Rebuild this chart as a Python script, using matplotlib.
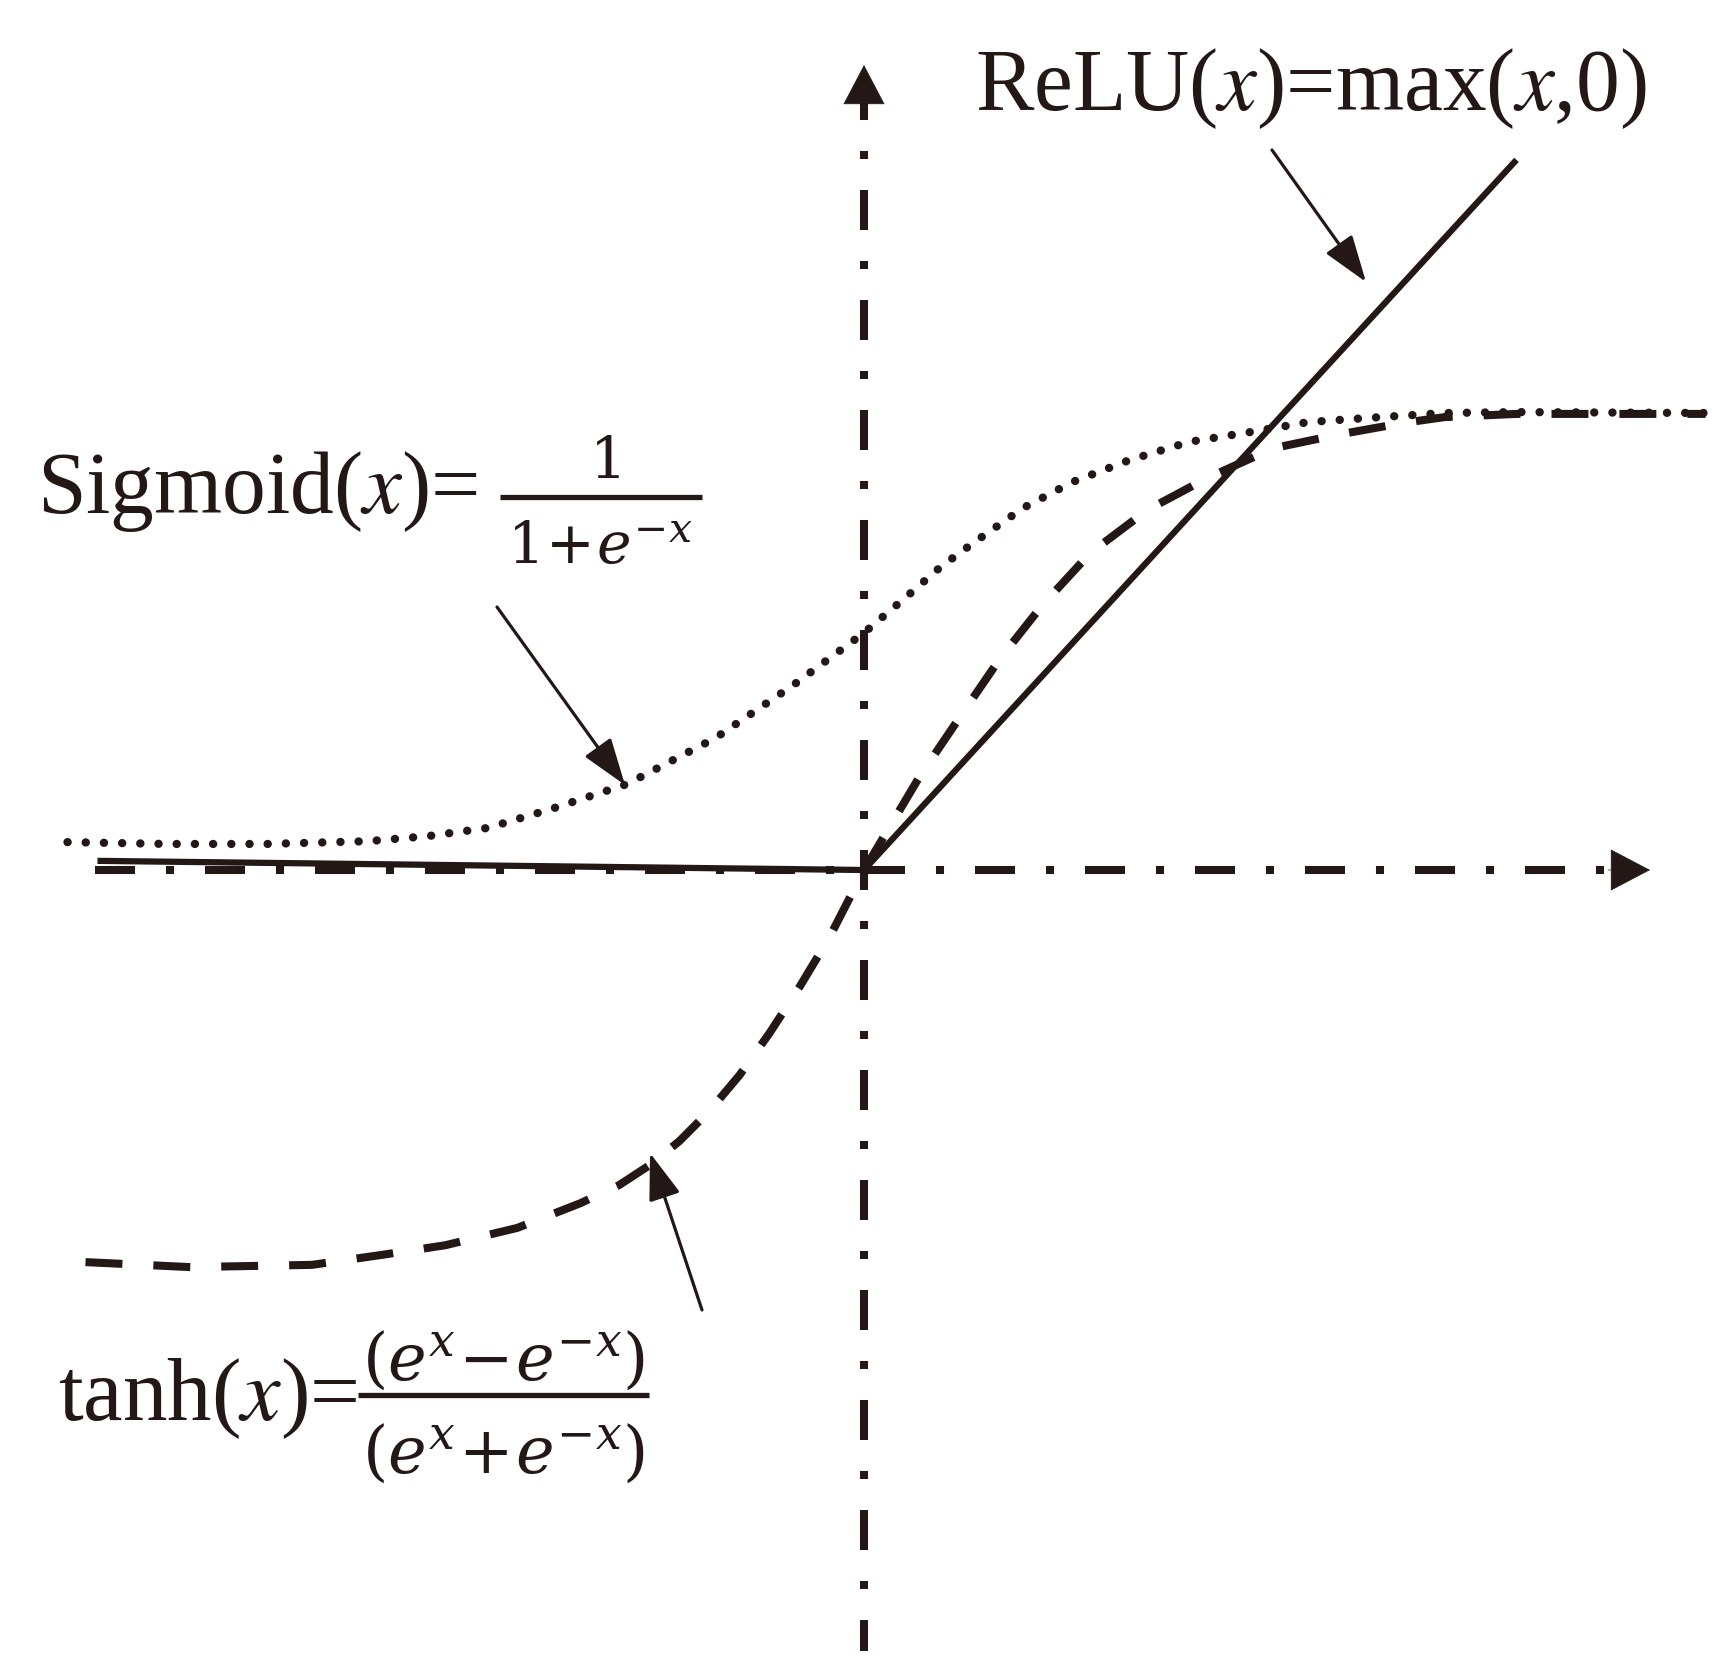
import matplotlib
matplotlib.use('Agg')
import matplotlib.pyplot as plt

plt.rcParams['lines.scale_dashes'] = False

# ---- data (x in units of 150 px, y in units of 457 px) ----
sig_x = [-5.31, -4.65, -3.98, -3.31, -2.91, -2.51, -2.09, -1.58, -0.99, -0.47, 0.0,
         0.29, 0.51, 0.73, 1.06, 1.39, 1.77, 2.17, 2.57, 2.96, 3.35, 3.87, 4.35, 5.61]
sig_y = [0.061, 0.057, 0.057, 0.063, 0.074, 0.092, 0.133, 0.188, 0.289, 0.405, 0.519,
         0.600, 0.663, 0.716, 0.792, 0.849, 0.897, 0.937, 0.958, 0.980, 0.989, 1.000, 1.002, 1.000]

tanh_x = [-5.19, -4.49, -3.68, -3.21, -2.79, -2.31, -1.89, -1.63, -1.43, -1.23, -1.03,
          -0.83, -0.63, -0.43, -0.23, 0.0, 0.37, 0.64, 0.91, 1.19, 1.51, 1.89, 2.29,
          2.73, 3.15, 3.59, 3.87, 4.35, 5.61]
tanh_y = [-0.858, -0.869, -0.864, -0.842, -0.821, -0.783, -0.729, -0.689, -0.646, -0.593,
          -0.527, -0.449, -0.357, -0.256, -0.147, 0.0, 0.204, 0.335, 0.464, 0.580, 0.694,
          0.788, 0.858, 0.923, 0.952, 0.978, 0.991, 0.998, 0.998]

relu_x = [-5.11, 0.0, 4.35]
relu_y = [0.020, 0.0, 1.554]

relu_label = 'ReLU($x$)=max($x$,0)'
sig_label = 'Sigmoid($x$)='
sig_num = '$1$'
sig_den = r'$1\!+\!e^{-x}$'
tanh_label = 'tanh($x$)='
tanh_num = r'$(e^{x}\!-\!e^{-x})$'
tanh_den = r'$(e^{x}\!+\!e^{-x})$'

# ---- layout helpers (pixel position -> data units) ----
W, H = 1726, 1678
X0, Y0, SX, SY = 864, 870, 150.0, 457.0


def P(px, py):
    return ((px - X0) / SX, (Y0 - py) / SY)


INK = '#231815'
SERIF = 'Liberation Serif'

fig = plt.figure(figsize=(W / 100, H / 100), dpi=100)
ax = fig.add_axes([0, 0, 1, 1])
ax.set_xlim(P(0, 0)[0], P(W, 0)[0])
ax.set_ylim(P(0, H)[1], P(0, 0)[1])
ax.axis('off')

# ---- axes (dash-dot) with arrow heads ----
axis_ls = (28.8, 22.3, 5.8, 22.3)
hx0, hx1 = P(95, 0)[0], P(1612, 0)[0]
ax.plot([hx0, hx1], [0, 0], color=INK, lw=5.8, ls=(0, axis_ls),
        dash_capstyle='butt', zorder=2)
vy0, vy1 = P(0, 100)[1], P(0, 1651)[1]
ax.plot([0, 0], [vy0, vy1], color=INK, lw=5.8, ls=(14.4, axis_ls),
        dash_capstyle='butt', zorder=2)

head = dict(arrowstyle='-|>,head_length=1.37,head_width=0.72', mutation_scale=20,
            color=INK, lw=0.5, shrinkA=0, shrinkB=0)
ax.annotate('', xy=(P(1650, 0)[0], 0), xytext=(P(1608, 0)[0], 0), arrowprops=head)
ax.annotate('', xy=(0, P(0, 65)[1]), xytext=(0, P(0, 106)[1]), arrowprops=head)

# ---- activation curves ----
ax.plot(sig_x, sig_y, color=INK, lw=6.0, ls=(0, (0.1, 13.0)),
        dash_capstyle='round', zorder=3)
ax.plot(tanh_x, tanh_y, color=INK, lw=5.8, ls=(0, (26.6, 22.3)),
        dash_capstyle='butt', zorder=3)
ax.plot(relu_x, relu_y, color=INK, lw=4.5, solid_capstyle='butt', zorder=4)

# ---- pointer arrows ----
pointer = dict(arrowstyle='-|>,head_length=1.45,head_width=0.5', mutation_scale=20,
               color=INK, lw=2.3, shrinkA=0, shrinkB=0)
ax.annotate('', xy=P(1366, 282), xytext=P(1272, 150), arrowprops=pointer)
ax.annotate('', xy=P(625, 785), xytext=P(497, 607), arrowprops=pointer)
ax.annotate('', xy=P(650, 1153), xytext=P(702, 1310), arrowprops=pointer)

# ---- labels ----
ax.text(*P(1311, 110), relu_label, ha='center', va='baseline', fontsize=63,
        family=SERIF, math_fontfamily='stix', color=INK)

ax.text(*P(257, 513), sig_label, ha='center', va='baseline', fontsize=63,
        family=SERIF, math_fontfamily='stix', color=INK)
ax.plot([P(500, 0)[0], P(702, 0)[0]], [P(0, 497)[1]] * 2, color=INK, lw=3.8,
        solid_capstyle='butt')
ax.text(*P(604, 478), sig_num, ha='center', va='baseline', fontsize=42,
        math_fontfamily='dejavuserif', color=INK)
ax.text(*P(600, 563), sig_den, ha='center', va='baseline', fontsize=42,
        math_fontfamily='dejavuserif', color=INK)

ax.text(*P(208, 1420), tanh_label, ha='center', va='baseline', fontsize=64,
        family=SERIF, math_fontfamily='stix', color=INK)
ax.plot([P(358, 0)[0], P(649, 0)[0]], [P(0, 1395)[1]] * 2, color=INK, lw=3.8,
        solid_capstyle='butt')
ax.text(*P(503, 1380), tanh_num, ha='center', va='baseline', fontsize=47,
        math_fontfamily='dejavuserif', color=INK)
ax.text(*P(503, 1473), tanh_den, ha='center', va='baseline', fontsize=47,
        math_fontfamily='dejavuserif', color=INK)

fig.savefig('out.png', dpi=100, facecolor='white')
